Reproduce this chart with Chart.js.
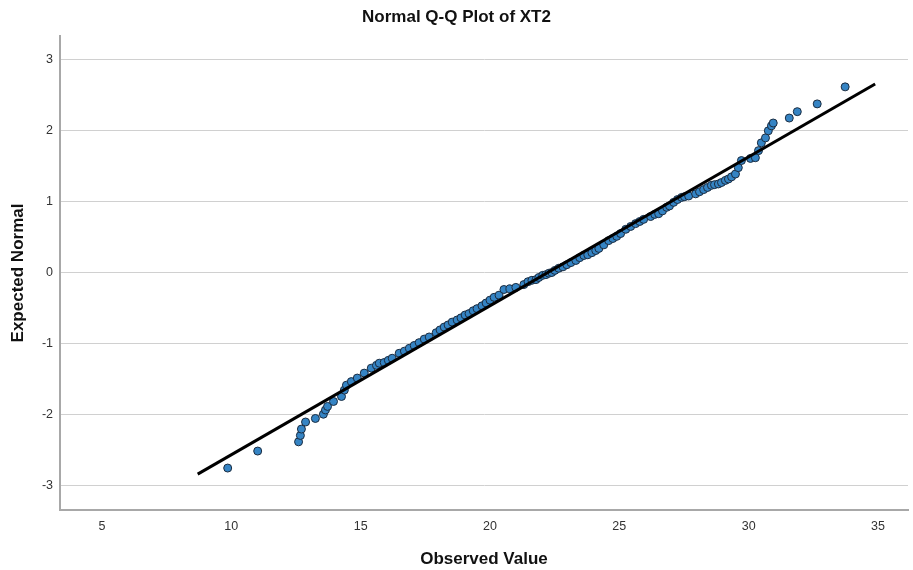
<!DOCTYPE html>
<html>
<head>
<meta charset="utf-8">
<script src="https://cdn.jsdelivr.net/npm/chart.js@4/dist/chart.umd.min.js"></script>
<style>
  html, body { margin: 0; padding: 0; background: #ffffff; }
  canvas { display: block; }
</style>
</head>
<body>
<canvas id="qq" width="913" height="570"></canvas>
<script>
// Observed values of XT2 (sorted) and their expected normal scores
const observedValues = [
  9.86, 11.02, 12.60, 12.67, 12.71, 12.87, 13.25, 13.56, 13.64, 13.72,
  13.95, 14.26, 14.37, 14.45, 14.64, 14.87, 15.14, 15.41, 15.61, 15.72,
  15.91, 16.07, 16.22, 16.49, 16.69, 16.88, 17.07, 17.26, 17.46, 17.65,
  17.92, 18.07, 18.23, 18.38, 18.54, 18.73, 18.88, 19.04, 19.19, 19.35,
  19.50, 19.69, 19.85, 20.00, 20.16, 20.35, 20.54, 20.77, 21.00, 21.31,
  21.47, 21.62, 21.78, 21.89, 22.04, 22.16, 22.28, 22.39, 22.51, 22.66,
  22.82, 22.97, 23.13, 23.32, 23.47, 23.63, 23.78, 23.94, 24.09, 24.21,
  24.40, 24.59, 24.75, 24.90, 25.05, 25.25, 25.44, 25.63, 25.79, 25.94,
  26.21, 26.37, 26.52, 26.67, 26.83, 26.94, 27.10, 27.25, 27.41, 27.52,
  27.68, 27.95, 28.10, 28.26, 28.41, 28.56, 28.68, 28.83, 28.95, 29.10,
  29.22, 29.34, 29.49, 29.60, 29.72, 30.07, 30.26, 30.38, 30.49, 30.65,
  30.76, 30.88, 30.95, 31.57, 31.88, 32.65, 33.73
];
const expectedNormal = [
  -2.76, -2.52, -2.39, -2.30, -2.21, -2.11, -2.06, -2.00, -1.94, -1.89,
  -1.82, -1.75, -1.66, -1.59, -1.54, -1.49, -1.42, -1.35, -1.31, -1.28,
  -1.27, -1.24, -1.21, -1.14, -1.11, -1.07, -1.03, -0.99, -0.94, -0.91,
  -0.85, -0.81, -0.77, -0.74, -0.70, -0.67, -0.64, -0.60, -0.58, -0.54,
  -0.51, -0.47, -0.43, -0.39, -0.35, -0.32, -0.24, -0.23, -0.21, -0.17,
  -0.13, -0.11, -0.10, -0.07, -0.04, -0.03, -0.01, 0.00, 0.03, 0.06,
  0.08, 0.11, 0.14, 0.17, 0.21, 0.24, 0.25, 0.28, 0.31, 0.34,
  0.39, 0.45, 0.48, 0.51, 0.55, 0.61, 0.65, 0.69, 0.72, 0.75,
  0.79, 0.82, 0.83, 0.87, 0.92, 0.94, 0.99, 1.03, 1.06, 1.07,
  1.08, 1.11, 1.14, 1.17, 1.20, 1.23, 1.24, 1.25, 1.27, 1.30,
  1.32, 1.35, 1.39, 1.48, 1.58, 1.61, 1.62, 1.72, 1.83, 1.90,
  2.00, 2.07, 2.11, 2.18, 2.27, 2.38, 2.62
];

// Reference line end points
const refLineX = [8.70, 34.89];
const refLineY = [-2.845, 2.66];

// Axis tick values
const xTickValues = [5, 10, 15, 20, 25, 30, 35];
const yTickValues = [-3, -2, -1, 0, 1, 2, 3];

const pointData = observedValues.map((x, i) => ({ x: x, y: expectedNormal[i] }));
const lineData = refLineX.map((x, i) => ({ x: x, y: refLineY[i] }));

const tickFont = { family: "'Liberation Sans Narrow', 'Liberation Sans', Arial, sans-serif", size: 12.5 };
const titleFontFamily = "'Liberation Sans', Arial, sans-serif";

new Chart(document.getElementById('qq'), {
  type: 'scatter',
  data: {
    datasets: [
      {
        type: 'line',
        data: lineData,
        borderColor: '#000000',
        borderWidth: 3,
        pointRadius: 0,
        fill: false,
        showLine: true
      },
      {
        data: pointData,
        backgroundColor: '#3584c4',
        borderColor: '#1b2c40',
        borderWidth: 1,
        pointRadius: 4
      }
    ]
  },
  options: {
    responsive: false,
    animation: false,
    layout: { padding: 0 },
    plugins: {
      legend: { display: false },
      tooltip: { enabled: false },
      title: {
        display: true,
        text: 'Normal Q-Q Plot of XT2',
        color: '#111111',
        font: { family: titleFontFamily, size: 17, weight: 'bold', lineHeight: 1.2 },
        padding: { top: 7, bottom: 8.6 }
      }
    },
    scales: {
      x: {
        type: 'linear',
        min: 3.377,
        max: 36.16,
        afterBuildTicks: (s) => { s.ticks = xTickValues.map(v => ({ value: v })); },
        afterFit: (s) => { s.height = 60; },
        grid: { display: false, drawTicks: false },
        border: { display: true, color: '#a8a8a8', width: 2 },
        ticks: { color: '#333333', font: tickFont, padding: 9, maxRotation: 0 },
        title: {
          display: true,
          text: 'Observed Value',
          color: '#111111',
          font: { family: titleFontFamily, size: 17, weight: 'bold', lineHeight: 1.2 },
          padding: { top: 2.8, bottom: 0 }
        }
      },
      y: {
        type: 'linear',
        min: -3.352,
        max: 3.338,
        afterBuildTicks: (s) => { s.ticks = yTickValues.map(v => ({ value: v })); },
        afterFit: (s) => { s.width = 60; },
        grid: { display: true, color: '#d0d0d0', lineWidth: 1, drawTicks: false },
        border: { display: true, color: '#a8a8a8', width: 2 },
        ticks: { color: '#333333', font: tickFont, padding: 7 },
        title: {
          display: true,
          text: 'Expected Normal',
          color: '#111111',
          font: { family: titleFontFamily, size: 17, weight: 'bold', lineHeight: 1.2 },
          padding: { top: 7.8, bottom: 0 }
        }
      }
    }
  }
});
</script>
</body>
</html>
